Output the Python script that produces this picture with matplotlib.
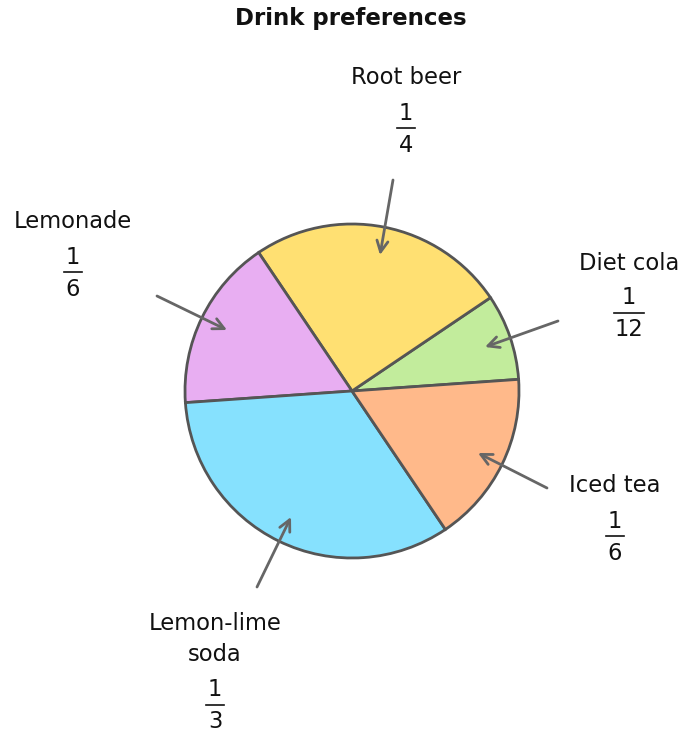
import matplotlib
matplotlib.use("Agg")
from matplotlib import pyplot as plt

# slices go counterclockwise starting from the diet cola / iced tea border
drinks = ["Diet cola", "Root beer", "Lemonade", "Lemon-lime\nsoda", "Iced tea"]
numer = [1, 1, 1, 1, 1]
denom = [12, 4, 6, 3, 6]
colors = ["#c2ec9c", "#ffe072", "#e8aef2", "#86e1fe", "#ffb98a"]

W, H = 682, 736
fig = plt.figure(figsize=(W / 100, H / 100), dpi=100)
ax = fig.add_axes([0, 0, 1, 1])

cx, cy, r = 352, H - 391, 167
values = [n / d for n, d in zip(numer, denom)]
ax.pie(values, colors=colors, startangle=4, counterclock=True,
       center=(cx, cy), radius=r,
       wedgeprops=dict(edgecolor="#555555", linewidth=2))
ax.set_xlim(0, W)
ax.set_ylim(0, H)
ax.set_aspect("equal")
ax.axis("off")

# label placement in pixel coords: (text x, name y, arrow start, arrow end, fraction line half width)
layout = {
    "Diet cola": (629, 263, (558, 321), (485, 347), 15),
    "Root beer": (406, 78, (393, 180), (380, 255), 9),
    "Lemonade": (73, 222, (157, 296), (227, 330), 9),
    "Lemon-lime\nsoda": (215, 639, (257, 587), (291, 517), 9),
    "Iced tea": (615, 486, (547, 488), (478, 453), 9),
}
fs = 16.3
gray = "#666666"
for name, n, d in zip(drinks, numer, denom):
    tx, ty, a0, a1, hw = layout[name]
    nlines = name.count("\n") + 1
    ax.text(tx, H - ty, name, ha="center", va="center", fontsize=fs,
            linespacing=1.45, color="#111111")
    fy = ty + 16 * (nlines - 1) + 35
    ax.text(tx, H - fy, str(n), ha="center", va="center", fontsize=fs, color="#111111")
    ax.plot([tx - hw, tx + hw], [H - fy - 15, H - fy - 15], color="#111111", lw=1.2)
    ax.text(tx, H - fy - 32, str(d), ha="center", va="center", fontsize=fs, color="#111111")
    ax.annotate("", xy=(a1[0], H - a1[1]), xytext=(a0[0], H - a0[1]),
                arrowprops=dict(arrowstyle="->", color=gray, lw=2,
                                mutation_scale=20, shrinkA=0, shrinkB=0))

ax.text(351, H - 19, "Drink preferences", ha="center", va="center",
        fontsize=16.5, fontweight="bold", color="#111111")

fig.savefig("out.png", dpi=100)
